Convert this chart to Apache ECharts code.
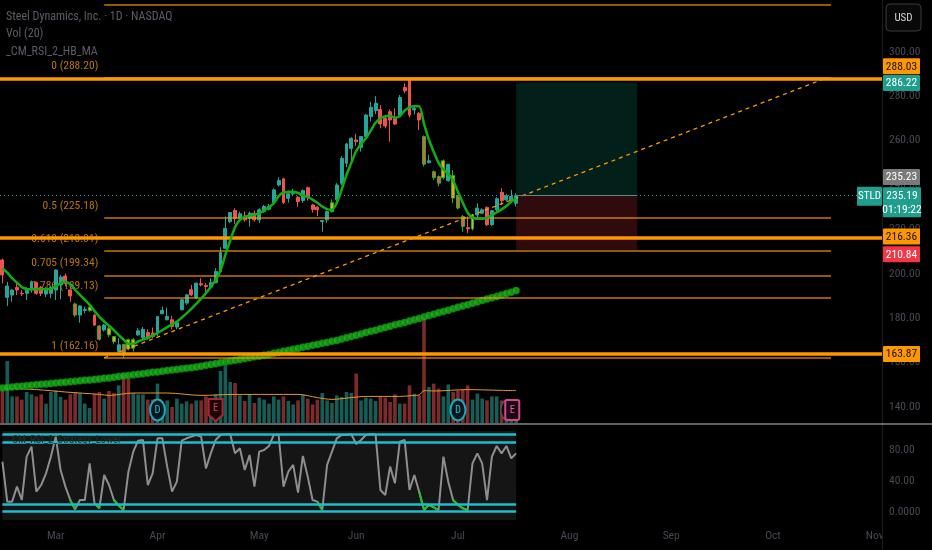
<!DOCTYPE html>
<html><head><meta charset="utf-8">
<script src="https://cdn.jsdelivr.net/npm/echarts@6.0.0/dist/echarts.min.js"></script>
<style>html,body{margin:0;padding:0;background:#000;}#c{width:932px;height:550px;}</style>
</head><body><div id="c"></div>
<script>
const FONT = '"Liberation Sans Narrow","Roboto Condensed","DejaVu Sans Condensed",sans-serif';

// ---- candles (bar index 0..106) ----
const opens = [206.2,189.4,190.4,193.9,191.2,191.2,192.7,196.1,193.9,190.9,
191.2,192.7,195.0,199.0,192.7,186.4,181.4,183.5,183.5,181.4,
176.5,174.7,175.4,171.7,165.0,168.2,170.3,166.5,172.5,171.3,
173.5,173.3,173.3,182.0,179.3,179.3,176.0,183.8,186.8,192.8,
189.3,195.5,194.8,194.0,196.0,201.0,211.5,223.5,228.5,225.0,
226.0,225.0,227.3,224.3,228.0,229.1,232.1,240.0,242.8,234.0,
236.0,234.5,233.0,238.8,231.0,230.0,223.5,224.3,228.0,233.3,
240.8,249.8,256.5,260.3,257.0,261.8,270.8,273.5,274.0,270.0,
273.0,270.0,271.5,283.9,287.7,273.8,272.3,261.8,250.0,246.0,
243.8,243.3,241.9,244.2,235.2,225.8,220.8,220.2,226.5,227.3,
229.9,222.1,228.8,236.7,233.3,233.3,231.8];
const closes = [199.5,194.5,192.7,192.7,191.0,193.4,196.4,191.2,191.2,193.0,
193.9,201.7,198.5,195.7,190.0,181.4,185.5,183.9,184.9,176.9,
170.5,176.9,172.5,169.4,168.0,163.4,166.5,170.3,174.3,175.0,
171.0,171.8,180.8,183.5,180.8,176.3,178.0,188.3,190.5,190.5,
195.8,195.0,194.3,196.0,201.0,209.6,220.4,227.6,225.0,227.0,
224.3,227.3,224.3,228.8,230.3,230.3,237.8,242.0,232.1,236.0,
237.0,232.5,237.5,234.5,229.0,228.8,224.0,228.0,232.0,240.0,
252.0,258.5,261.0,259.5,261.8,271.5,275.0,276.8,267.5,266.6,
269.3,267.5,279.4,282.4,271.5,274.5,269.3,249.4,250.9,243.3,
240.8,250.9,249.3,234.1,229.6,221.3,220.2,226.5,229.6,228.8,
222.1,228.4,233.8,232.9,235.2,234.8,235.19];
const lows = [195.7,185.5,187.4,190.4,190.0,188.2,191.5,190.5,190.0,189.5,
189.0,188.2,188.5,194.5,187.4,180.5,178.0,182.2,183.0,176.5,
170.0,174.0,171.5,168.5,163.8,162.16,165.5,165.0,172.0,170.5,
170.3,171.0,171.8,181.9,179.0,175.0,175.0,183.5,186.0,190.0,
188.6,194.3,191.5,194.0,195.8,200.8,211.5,222.8,222.5,224.0,
223.5,221.3,223.5,222.8,227.5,228.5,231.5,239.3,231.5,232.0,
235.5,230.3,232.0,233.0,227.6,226.0,219.0,223.0,227.6,232.5,
240.0,248.0,249.8,257.6,255.0,261.5,268.6,272.0,265.5,265.5,
259.5,267.0,270.5,281.3,270.5,271.8,264.8,248.3,249.8,242.3,
239.5,242.5,241.5,231.8,229.0,219.0,218.3,219.5,225.0,226.8,
221.5,221.5,228.0,231.0,232.5,231.8,230.3];
const highs = [206.8,196.4,193.0,196.0,192.7,193.9,197.0,196.5,194.5,194.0,
194.5,201.9,199.5,200.2,194.9,187.0,185.8,185.2,185.5,182.0,
177.0,177.5,176.0,172.0,171.0,168.5,170.8,171.0,175.5,176.0,
175.0,175.8,181.0,185.2,184.8,181.0,178.5,188.8,191.0,195.0,
196.0,198.0,195.8,198.0,202.5,212.0,225.8,227.6,229.5,228.0,
228.0,228.0,228.5,229.5,231.0,231.5,238.5,243.5,243.3,237.5,
238.3,235.0,238.0,239.3,231.5,230.5,224.3,228.5,233.5,240.8,
253.0,259.0,261.5,263.0,262.0,272.0,277.5,280.0,276.0,271.0,
274.0,274.5,280.5,285.8,288.2,275.8,272.8,262.3,253.6,246.5,
244.3,251.5,249.5,246.8,235.5,226.5,225.8,227.0,231.8,229.5,
230.3,228.8,234.5,238.5,236.0,237.8,236.3];
const signalRedBars = [15,20,25,87,89,90,94,95];
const signalYellowBars = [18,22,23,26,27,68,91,93,97];

// ---- volume (millions) ----
const volumes = [1.63,3.10,1.33,1.33,1.17,1.55,1.43,1.33,1.43,0.97,
1.55,1.63,1.30,1.17,1.43,1.55,1.50,0.97,0.75,1.47,
1.55,1.22,1.60,1.50,1.88,2.47,2.22,1.50,1.43,1.43,
1.17,1.17,1.97,1.05,1.13,0.80,1.22,0.97,1.08,0.97,
1.13,1.13,1.33,0.93,1.43,2.60,2.88,2.05,2.00,1.38,
1.10,1.43,1.00,1.27,1.17,0.97,1.33,1.17,1.33,1.10,
0.93,1.13,1.43,1.22,0.93,1.17,1.50,1.13,1.00,1.38,
1.30,1.55,1.50,2.47,1.13,1.27,1.22,1.10,1.30,1.27,
1.05,1.43,0.97,0.97,1.88,1.47,1.38,5.23,1.80,1.97,
1.72,1.33,1.93,1.55,1.63,1.67,1.88,1.17,1.47,1.22,
1.13,1.33,1.33,1.13,1.13,1.05,1.20];
const volMa20 = [[0,1.72],[7,1.67],[13,1.55],[20,1.43],[22,1.38],[27,1.50],[34,1.50],[41,1.38],[48,1.43],[55,1.43],[61,1.43],[65,1.27],[68,1.18],[72,1.27],[75,1.33],[82,1.33],[85,1.38],[86,1.40],[87,1.62],[89,1.60],[96,1.67],[103,1.63],[106,1.62]];

// ---- moving averages on price ----
const hbMa = [[0,202.5],[1,200.5],[2,198],[3,196],[4,194],[5,193.2],[7,193],[9,193],[10,193.3],[11,194.3],[12,195.8],[13,196.4],[14,195.3],[15,192.8],[16,190.5],[17,188.3],[18,186],[19,183.3],[20,180.6],[21,178.5],[22,176.6],[23,174.6],[24,172.4],[25,170.4],[26,168.5],[27,168.5],[28,169.5],[30,171.2],[32,173.3],[34,176],[36,178.5],[38,182.2],[40,186.5],[42,191.3],[44,197.2],[45,201.5],[46,208.5],[47,215],[48,221],[49,224.3],[50,225.7],[52,226.6],[53,227.2],[54,228.6],[55,230],[56,231.8],[57,235],[58,236.6],[60,237],[61,236.4],[62,235.3],[63,234.5],[64,233.4],[65,232],[66,230.3],[67,229.1],[68,228.8],[69,232],[70,237.8],[71,244.6],[72,250],[73,255.3],[74,258.5],[75,261],[76,264.5],[77,268],[78,270],[79,271],[80,271.2],[81,270.3],[82,271],[83,273.5],[84,275],[85,275.5],[86,275.5],[87,267.5],[88,260.5],[89,255],[90,250],[91,247],[92,245],[93,242],[94,237],[95,232],[96,227.5],[97,225.3],[98,224.8],[99,224.8],[100,225.3],[101,226.5],[102,227.7],[103,229],[104,230.5],[105,232.5],[106,234]];
const ma200 = [148.6,148.8,149.0,149.2,149.4,149.6,149.8,150.0,150.2,150.4,
150.6,150.8,151.0,151.2,151.4,151.6,151.8,152.0,152.2,152.4,
152.6,152.9,153.1,153.4,153.7,154.0,154.2,154.5,154.8,155.0,
155.3,155.6,155.8,156.1,156.4,156.7,156.9,157.2,157.5,157.7,
158.0,158.4,158.8,159.1,159.5,159.9,160.3,160.7,161.0,161.4,
161.8,162.2,162.6,162.9,163.3,163.7,164.2,164.6,165.1,165.5,
166.0,166.4,166.9,167.3,167.8,168.2,168.7,169.1,169.6,170.0,
170.6,171.2,171.7,172.3,172.9,173.5,174.1,174.6,175.2,175.8,
176.4,177.0,177.5,178.1,178.7,179.3,179.9,180.5,181.2,181.8,
182.4,183.0,183.6,184.3,184.9,185.5,186.1,186.7,187.3,188.0,
188.6,189.2,189.8,190.4,191.1,191.7,192.5];

// ---- RSI(2) ----
const rsi2 = [64.7,13.0,13.0,32.4,15.1,71.1,84.0,25.9,34.5,49.6,
71.1,97.0,53.9,32.4,15.1,3.1,15.1,15.1,62.5,10.8,
4.4,47.4,34.5,15.1,8.0,2.2,51.7,77.6,91.8,92.7,
34.5,49.6,94.8,94.8,58.2,25.9,38.8,91.8,94.8,97.0,
99.1,97.0,56.0,75.4,92.7,99.1,100,100,75.4,81.9,
53.9,73.3,32.4,77.6,79.7,84.9,99.1,99.1,32.4,51.7,
60.4,24.6,72.0,45.3,15.1,13.0,2.2,60.4,77.6,94.8,
99.1,99.1,100,87.5,92.7,99.1,100,100,28.1,21.6,
58.2,36.7,90.5,92.7,28.1,47.4,25.9,2.2,9.0,5.7,
2.2,71.1,38.8,15.1,8.7,4.4,2.2,62.5,75.4,62.5,
15.1,71.1,84.9,75.4,84.9,69.0,75.4];
const rsiBands = [100, 90, 10, 0];
const rsiTicks = [0, 40, 80];

// ---- axes ----
const barCount = 182;
const monthNames = ['Mar','Apr','May','Jun','Jul','Aug','Sep','Oct','Nov'];
const monthIdx = [11,32,53,73,94,117,138,159,180];
const priceTicks = [140,160,180,200,220,240,260,280,300];

// ---- drawings ----
const fibLevels = [0, 0.5, 0.618, 0.705, 0.786, 1];
const fibPrices = [288.20, 225.18, 210.31, 199.34, 189.13, 162.16];
const fibExtra = 321.0;
const fibStart = 21, fibEnd = 171, fibLabelIdx = 20;
const hLines = [288.03, 216.36, 163.87];
const trendFrom = [21, 162.16], trendTo = [170, 288.2];
const posStart = 106, posEnd = 131, entryPrice = 235.23, targetPrice = 286.22, stopPrice = 210.84;
const lastPrice = 235.19;
const events = [{idx:32, type:'D'}, {idx:44, type:'E'}, {idx:94, type:'D'}, {idx:105, type:'E2'}];

const UP = '#26a69a', DOWN = '#ef5350';
const cats = Array.from({length: barCount}, (_, i) => String(i));
const G = {left: -0.725, width: 882.7};

const candleData = opens.map((o, i) => {
  const item = {value: [o, closes[i], lows[i], highs[i]]};
  if (signalRedBars.includes(i)) item.itemStyle = {color: '#ef5350', color0: '#ef5350', borderColor: '#22b322', borderColor0: '#22b322'};
  if (signalYellowBars.includes(i)) item.itemStyle = {color: '#f5a21f', color0: '#f5a21f', borderColor: '#22b322', borderColor0: '#22b322'};
  return item;
});
const volData = volumes.map((v, i) => ({value: v, itemStyle: {color: closes[i] >= opens[i] ? 'rgba(38,166,154,0.56)' : 'rgba(239,83,80,0.52)'}}));
const rsiGreen = rsi2.map((v, i) => (v < 10 || (i + 1 < rsi2.length && rsi2[i + 1] < 10)) ? v : null);

const fibLine = {color: 'rgba(255,152,0,0.78)', width: 1.6, type: 'solid'};
const priceMarkLines = [];
fibPrices.forEach(p => priceMarkLines.push([{coord: [fibStart, p], lineStyle: fibLine}, {coord: [fibEnd, p]}]));
priceMarkLines.push([{coord: [fibStart, fibExtra], lineStyle: fibLine}, {coord: [fibEnd, fibExtra]}]);
priceMarkLines.push([{coord: trendFrom, lineStyle: {color: '#ff9800', width: 1.3, type: [4, 4]}}, {coord: trendTo}]);
priceMarkLines.push([{coord: [posStart, entryPrice], lineStyle: {color: '#787b86', width: 1, type: 'solid'}}, {coord: [posEnd, entryPrice]}]);
priceMarkLines.push({yAxis: lastPrice, lineStyle: {color: '#26a69a', width: 1, type: [1, 3]}});
hLines.forEach(p => priceMarkLines.push({yAxis: p, lineStyle: {color: '#ff9800', width: 3.5, type: 'solid'}}));

const rsiMarkLines = rsiBands.map(b => [{coord: [0, b]}, {coord: [rsi2.length - 1, b]}]);

const axisTxt = '#474a54';
const option = {
  backgroundColor: '#000',
  animation: false,
  grid: [
    {left: G.left, width: G.width, top: 0, height: 424},
    {left: G.left, width: G.width, top: 300, height: 123},
    {left: G.left, width: G.width, top: 425, height: 95}
  ],
  xAxis: [0, 1, 2].map(g => ({
    type: 'category', gridIndex: g, data: cats, boundaryGap: true,
    axisLine: {show: false}, axisTick: {show: false}, splitLine: {show: false},
    axisLabel: g === 2 ? {
      show: true, interval: (i) => monthIdx.includes(i),
      formatter: (v, i) => monthNames[monthIdx.indexOf(i)] || '',
      color: axisTxt, fontSize: 11.5, fontFamily: FONT, margin: 10
    } : {show: false}
  })),
  yAxis: [
    {type: 'value', gridIndex: 0, position: 'right', min: 132.34, max: 323.33, scale: true,
     splitLine: {show: false}, axisLine: {show: false}, axisTick: {show: false},
     axisLabel: {customValues: priceTicks, formatter: v => v.toFixed(2), color: axisTxt, fontSize: 11.5, fontFamily: FONT, margin: 7}},
    {type: 'value', gridIndex: 1, min: 0, max: 6.15, show: false},
    {type: 'value', gridIndex: 2, position: 'right', min: -10.7, max: 112, scale: true,
     splitLine: {show: false}, axisLine: {show: false}, axisTick: {show: false},
     axisLabel: {customValues: rsiTicks, formatter: v => v === 0 ? '0.0000' : v.toFixed(2), color: axisTxt, fontSize: 11.5, fontFamily: FONT, margin: 7}}
  ],
  series: [
    {type: 'bar', name: 'vol', xAxisIndex: 1, yAxisIndex: 1, data: volData, barWidth: 3.6, silent: true, z: 0},
    {type: 'line', name: 'volma', xAxisIndex: 1, yAxisIndex: 1, data: volMa20, smooth: 0.3, symbol: 'none', silent: true,
     lineStyle: {color: '#e8952a', width: 1}, z: 1},
    {type: 'line', name: 'priceHelper', xAxisIndex: 0, yAxisIndex: 0, data: closes, symbol: 'none', silent: true,
     lineStyle: {opacity: 0}, z: 1,
     markArea: {silent: true, data: [
       [{coord: [posStart, targetPrice], itemStyle: {color: 'rgba(8,153,129,0.2)'}}, {coord: [posEnd, entryPrice]}],
       [{coord: [posStart, entryPrice], itemStyle: {color: 'rgba(242,54,69,0.2)'}}, {coord: [posEnd, stopPrice]}]
     ]},
     markLine: {silent: true, symbol: ['none', 'none'], label: {show: false}, animation: false, data: priceMarkLines}},
    {type: 'scatter', name: 'fibLabels', xAxisIndex: 0, yAxisIndex: 0, data: fibPrices.map(p => [fibLabelIdx, p]),
     symbolSize: 0, silent: true, z: 0,
     label: {show: true, position: 'left', distance: 1, offset: [0, -12],
       formatter: (p) => fibLevels[p.dataIndex] + ' (' + fibPrices[p.dataIndex].toFixed(2) + ')',
       color: '#e8910f', fontSize: 11.5, fontFamily: FONT}},
    {type: 'candlestick', name: 'STLD', xAxisIndex: 0, yAxisIndex: 0, data: candleData, barWidth: 3.4, silent: true, z: 3,
     itemStyle: {color: UP, color0: DOWN, borderColor: UP, borderColor0: DOWN, borderWidth: 1}},
    {type: 'scatter', name: 'ma200', xAxisIndex: 0, yAxisIndex: 0, data: ma200, symbolSize: 7.5, silent: true, z: 4,
     itemStyle: {color: '#1cb81c', borderColor: 'rgba(0,70,0,0.6)', borderWidth: 0.8}},
    {type: 'line', name: 'hbma', xAxisIndex: 0, yAxisIndex: 0, data: hbMa, smooth: 0.25, symbol: 'none', silent: true, z: 5,
     lineStyle: {color: '#12ad12', width: 2.5}},
    {type: 'line', name: 'rsiHelper', xAxisIndex: 2, yAxisIndex: 2, data: rsi2, symbol: 'none', silent: true,
     lineStyle: {opacity: 0}, z: 0,
     markArea: {silent: true, data: [[{coord: [0, 104.3], itemStyle: {color: '#151515'}}, {coord: [rsi2.length - 1, -10.7]}]]},
     markLine: {silent: true, symbol: ['none', 'none'], label: {show: false}, lineStyle: {color: '#1fbccd', width: 2.5, type: 'solid'}, data: rsiMarkLines}},
    {type: 'line', name: 'rsi', xAxisIndex: 2, yAxisIndex: 2, data: rsi2, symbol: 'none', silent: true, z: 2,
     lineStyle: {color: '#8e8e8e', width: 2}},
    {type: 'line', name: 'rsiLow', xAxisIndex: 2, yAxisIndex: 2, data: rsiGreen, symbol: 'none', silent: true, z: 3,
     connectNulls: false, lineStyle: {color: '#1ec41e', width: 2}}
  ]
};

const chart = echarts.init(document.getElementById('c'));
chart.setOption(option);

const X = i => chart.convertToPixel({xAxisIndex: 0}, i);
const Y = p => chart.convertToPixel({yAxisIndex: 0}, p);
const txt = (x, y, text, fill, size, align, extra) => Object.assign({type: 'text', z: 101, style: {x, y, text, fill, font: (size || 11.5) + 'px ' + FONT, align: align || 'left', verticalAlign: 'middle'}}, extra || {});
const g = [];
g.push({type: 'line', z: 50, shape: {x1: 882.5, y1: 0, x2: 882.5, y2: 550}, style: {stroke: '#1d1d1d', lineWidth: 1}});
g.push({type: 'line', z: 50, shape: {x1: 0, y1: 424, x2: 932, y2: 424}, style: {stroke: '#c4c4c4', lineWidth: 1}});
g.push({type: 'rect', z: 60, shape: {x: 883, y: 524, width: 49, height: 26}, style: {fill: '#000'}});
g.push(txt(6, 17, 'Steel Dynamics, Inc. · 1D · NASDAQ', '#5a5d66', 12));
g.push(txt(6, 34, 'Vol (20)', '#5a5d66', 12));
g.push(txt(6, 52, '_CM_RSI_2_HB_MA', '#5a5d66', 12));
g.push(txt(12, 440, 'CM_RSI_2_Strategy_Lower', '#2a2a2a', 10.5));
g.push({type: 'rect', z: 100, shape: {x: 886, y: 4, width: 35, height: 27, r: 4}, style: {fill: '#080808', stroke: '#3a3a3a', lineWidth: 1}});
g.push(txt(903.5, 18, 'USD', '#d6d6d6', 11, 'center'));
const badges = [
  {p: 288.03, dy: -12, bg: '#ff9800', fg: '#111'},
  {p: targetPrice, dy: 0.5, bg: '#1f9e8e', fg: '#fff'},
  {p: entryPrice, dy: -18.5, bg: '#7a7a7a', fg: '#fff'},
  {p: 216.36, dy: -1, bg: '#ff9800', fg: '#111'},
  {p: stopPrice, dy: 4.5, bg: '#f23645', fg: '#fff'},
  {p: 163.87, dy: 0, bg: '#ff9800', fg: '#111'}
];
badges.forEach(b => {
  const y = Y(b.p) + b.dy;
  g.push({type: 'rect', z: 100, shape: {x: 883, y: y - 8, width: 37, height: 16, r: 1}, style: {fill: b.bg}});
  g.push(txt(901.5, y + 0.5, b.p.toFixed(2), b.fg, 11.5, 'center'));
});
const yl = Y(lastPrice);
g.push({type: 'rect', z: 100, shape: {x: 883, y: yl - 8.5, width: 38, height: 30, r: 1}, style: {fill: '#1f9e8e'}});
g.push(txt(902, yl, lastPrice.toFixed(2), '#fff', 11.5, 'center'));
g.push(txt(902, yl + 14, '01:19:22', '#fff', 11.5, 'center'));
g.push({type: 'rect', z: 100, shape: {x: 857, y: yl - 9, width: 25, height: 19, r: 1}, style: {fill: '#1f9e8e'}});
g.push(txt(869.5, yl + 0.5, 'STLD', '#fff', 11, 'center'));
events.forEach(e => {
  const x = X(e.idx), y = 410;
  if (e.type === 'D') {
    g.push({type: 'ellipse', z: 90, shape: {cx: x, cy: y, rx: 7.5, ry: 10.5}, style: {fill: '#03181c', stroke: '#1ea7bf', lineWidth: 2}});
    g.push(txt(x, y + 0.5, 'D', '#2bbcd2', 10.5, 'center', {z: 91}));
  } else if (e.type === 'E') {
    g.push({type: 'polygon', z: 90, shape: {points: [[x - 7, 399], [x + 7, 399], [x + 7, 415], [x, 421], [x - 7, 415]]}, style: {fill: '#1c0508', stroke: '#a8263a', lineWidth: 2}});
    g.push(txt(x, 408.5, 'E', '#d4404f', 10.5, 'center', {z: 91}));
  } else {
    g.push({type: 'ellipse', z: 89, shape: {cx: x - 3, cy: y, rx: 7.5, ry: 10.5}, style: {fill: '#0a0a0a', stroke: '#555', lineWidth: 1.5}});
    g.push({type: 'rect', z: 90, shape: {x: x - 6, y: 400, width: 14, height: 20, r: 2}, style: {fill: '#1a0714', stroke: '#d84488', lineWidth: 2}});
    g.push(txt(x + 1, 410.5, 'E', '#e0609a', 10.5, 'center', {z: 91}));
  }
});
chart.setOption({graphic: {elements: g}});
</script>
</body></html>
